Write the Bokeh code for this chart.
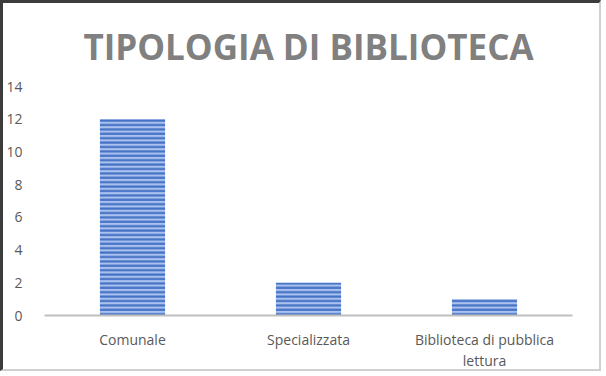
from bokeh.plotting import figure
from bokeh.embed import file_html
from bokeh.resources import INLINE
from bokeh.models import ColumnDataSource, FixedTicker, CategoricalAxis, FactorRange

title_text = "TIPOLOGIA DI BIBLIOTECA"
categories = ["Comunale", "Specializzata", "Biblioteca di pubblica"]
second_line = [" ", "  ", "lettura"]
values = [12, 2, 1]
y_ticks = [0, 2, 4, 6, 8, 10, 12, 14]

src = ColumnDataSource(dict(cat=categories, val=values))

p = figure(x_range=categories, y_range=(0, 14), width=601, height=371,
           output_backend="svg", toolbar_location=None, title=title_text,
           min_border_left=39, min_border_right=32, min_border_top=0, min_border_bottom=59)

p.vbar(x="cat", top="val", width=0.37, source=src,
       fill_color="#aac1ef", line_color=None,
       hatch_pattern="horizontal_line", hatch_color="#4472c4",
       hatch_scale=4.4, hatch_weight=2.2)

p.title.text_font = "Open Sans"
p.title.text_font_size = "35px"
p.title.text_font_style = "bold"
p.title.text_color = "#808080"
p.title.align = "center"
p.title.vertical_align = "bottom"
p.title.offset = -5
p.title.standoff = 34

p.outline_line_color = None
p.background_fill_color = "white"
p.border_fill_color = "white"
p.xgrid.grid_line_color = None
p.ygrid.grid_line_color = None

p.yaxis.ticker = FixedTicker(ticks=y_ticks)
p.yaxis.axis_line_color = None
p.yaxis.major_tick_line_color = None
p.yaxis.minor_tick_line_color = None
p.yaxis.major_label_text_font = "Open Sans"
p.yaxis.major_label_text_font_size = "14px"
p.yaxis.major_label_text_color = "#595959"
p.yaxis.major_label_standoff = 16

p.xaxis.axis_line_color = "#bfbfbf"
p.xaxis.axis_line_width = 2
p.xaxis.major_tick_line_color = None
p.xaxis.major_label_text_font = "Open Sans"
p.xaxis.major_label_text_font_size = "14px"
p.xaxis.major_label_text_color = "#595959"
p.xaxis.major_label_standoff = 8

p.extra_x_ranges = {"line2": FactorRange(factors=second_line)}
ax2 = CategoricalAxis(x_range_name="line2")
ax2.axis_line_color = None
ax2.major_tick_line_color = None
ax2.major_label_text_font = "Open Sans"
ax2.major_label_text_font_size = "14px"
ax2.major_label_text_color = "#595959"
ax2.major_label_standoff = -7
p.add_layout(ax2, "below")

p.styles = {"border-left": "3px solid #3c3c3c", "border-top": "3px solid #3c3c3c",
            "border-right": "2px solid #d0d0d0", "border-bottom": "2px solid #d0d0d0"}

open("out.html", "w").write(file_html(p, INLINE))
